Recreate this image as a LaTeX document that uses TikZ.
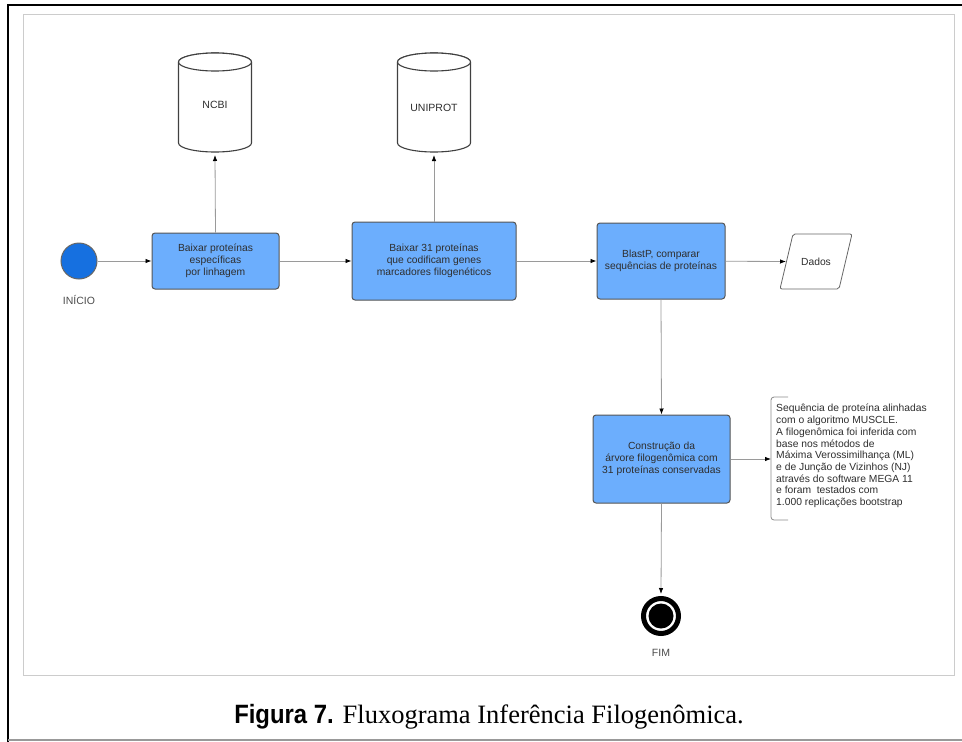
\documentclass[tikz,border=0pt]{standalone}
\usepackage{fontspec}
\setmainfont{Liberation Sans}
\newfontfamily\capserif{Liberation Serif}
\newfontfamily\capsans[FakeStretch=0.9]{Liberation Sans}
\usetikzlibrary{arrows.meta,calc}
\definecolor{boxblue}{HTML}{6CAEFD}
\definecolor{startblue}{HTML}{1670E0}
\definecolor{boxline}{HTML}{555555}
\definecolor{conn}{HTML}{9A9A9A}
\definecolor{txt}{HTML}{2E2E2E}
\tikzset{
  procbox/.style={draw=boxline, line width=1pt, fill=boxblue, rounded corners=3pt,
    align=center, text=txt, font=\fontsize{10.3}{12.2}\selectfont, inner sep=0pt},
  flow/.style={draw=conn, line width=0.8pt, -{Latex[length=6pt,width=4.5pt,color=black]}},
  cyl/.style={draw=black!75, line width=1.1pt, fill=white},
  lbl/.style={text=black!70, font=\fontsize{10.5}{12}\selectfont},
  ghost/.style={inner sep=0pt, outer sep=0pt}
}
\begin{document}
\begin{tikzpicture}[x=1pt,y=-1pt]
\useasboundingbox (0,0) rectangle (962,742);
\fill[white] (0,0) rectangle (962,742);
% frames
\draw[black, line width=2.6pt] (7,5) -- (962,5);
\draw[black, line width=2.6pt] (8,5) -- (8,742);
\draw[black!40, line width=1.4pt] (8,740) -- (962,740);
\draw[black!20, line width=1pt] (23,14) rectangle (954,675);

% cylinders
\node[ghost, minimum width=73pt, minimum height=102pt] (ncbi) at (215,104) {};
\draw[cyl] (178.5,62) -- (178.5,143) arc[start angle=180,end angle=360,x radius=36.5,y radius=-9] -- (251.5,62)
  arc[start angle=0,end angle=180,x radius=36.5,y radius=-9];
\draw[cyl] (215,62) ellipse[x radius=36.5,y radius=9];
\node[text=txt, font=\fontsize{10.5}{12}\selectfont] (ncbit) at (215,105) {NCBI};

\node[ghost, minimum width=73pt, minimum height=102pt] (uniprot) at (434,104) {};
\draw[cyl] (397.5,62) -- (397.5,143) arc[start angle=180,end angle=360,x radius=36.5,y radius=-9] -- (470.5,62)
  arc[start angle=0,end angle=180,x radius=36.5,y radius=-9];
\draw[cyl] (434,62) ellipse[x radius=36.5,y radius=9];
\node[text=txt, font=\fontsize{10.5}{12}\selectfont] (uniprott) at (434,108) {UNIPROT};

% start
\node[circle, draw=black!60, line width=1pt, fill=startblue, minimum size=36pt, inner sep=0pt] (start) at (79,261) {};
\node[lbl] (startl) at (79,300) {INÍCIO};

% process boxes
\node[procbox, minimum width=127pt, minimum height=56pt] (b1) at (215.5,261) {Baixar proteínas\\específicas\\por linhagem};
\node[procbox, minimum width=164pt, minimum height=78pt] (b2) at (434,261) {Baixar 31 proteínas\\que codificam genes\\marcadores filogenéticos};
\node[procbox, minimum width=128pt, minimum height=76pt] (b3) at (661,261) {BlastP, comparar\\sequências de proteínas};
\node[procbox, minimum width=137pt, minimum height=88pt] (b4) at (661.5,459) {Construção da\\árvore filogenômica com\\31 proteínas conservadas};

% data parallelogram
\node[ghost, minimum width=60pt, minimum height=55pt] (dados) at (816,261.5) {};
\draw[draw=black!60, line width=0.8pt, rounded corners=2pt] (793,234) -- (852,234) -- (839,289) -- (780,289) -- cycle;
\node[text=txt, font=\fontsize{10.3}{12}\selectfont] (dadost) at (816,261.5) {Dados};

% annotation
\coordinate (ann) at (771,459);
\draw[draw=black!45, line width=0.8pt, rounded corners=3pt] (788,397) -- (771,397) -- (771,520) -- (788,520);
\node[anchor=west, align=left, text=txt, font=\fontsize{10.3}{11.7}\selectfont, inner sep=0pt] (annt) at (776,456)
 {Sequência de proteína alinhadas\\com o algoritmo MUSCLE.\\A filogenômica foi inferida com\\base nos métodos de\\Máxima Verossimilhança (ML)\\e de Junção de Vizinhos (NJ)\\através do software MEGA 11\\e foram\ \ testados com\\1.000 replicações bootstrap};

% end
\node[circle, draw=black, line width=5pt, fill=white, minimum size=35pt, inner sep=0pt] (fim) at (661,616) {};
\fill[black] (fim.center) circle[radius=12.5];
\node[lbl] (fiml) at (661,653) {FIM};

% connectors
\draw[flow] (start) -- (b1);
\draw[flow] (b1) -- (b2);
\draw[flow] (b2) -- (b3);
\draw[flow] (b3) -- (dados.west);
\draw[flow] (b1.north) -- (ncbi.south);
\draw[flow] (b2.north) -- (uniprot.south);
\draw[flow] (b3.south) -- (b4.north);
\draw[flow] (b4.east) -- (ann);
\draw[flow] (b4.south) -- ([yshift=2pt]fim.north);

% caption
\node[font=\fontsize{26.5}{30}\selectfont] (cap) at (489,717) {{\capsans\bfseries Figura 7.}\hspace{9pt}{\capserif Fluxograma Inferência Filogenômica.}};
\end{tikzpicture}
\end{document}
